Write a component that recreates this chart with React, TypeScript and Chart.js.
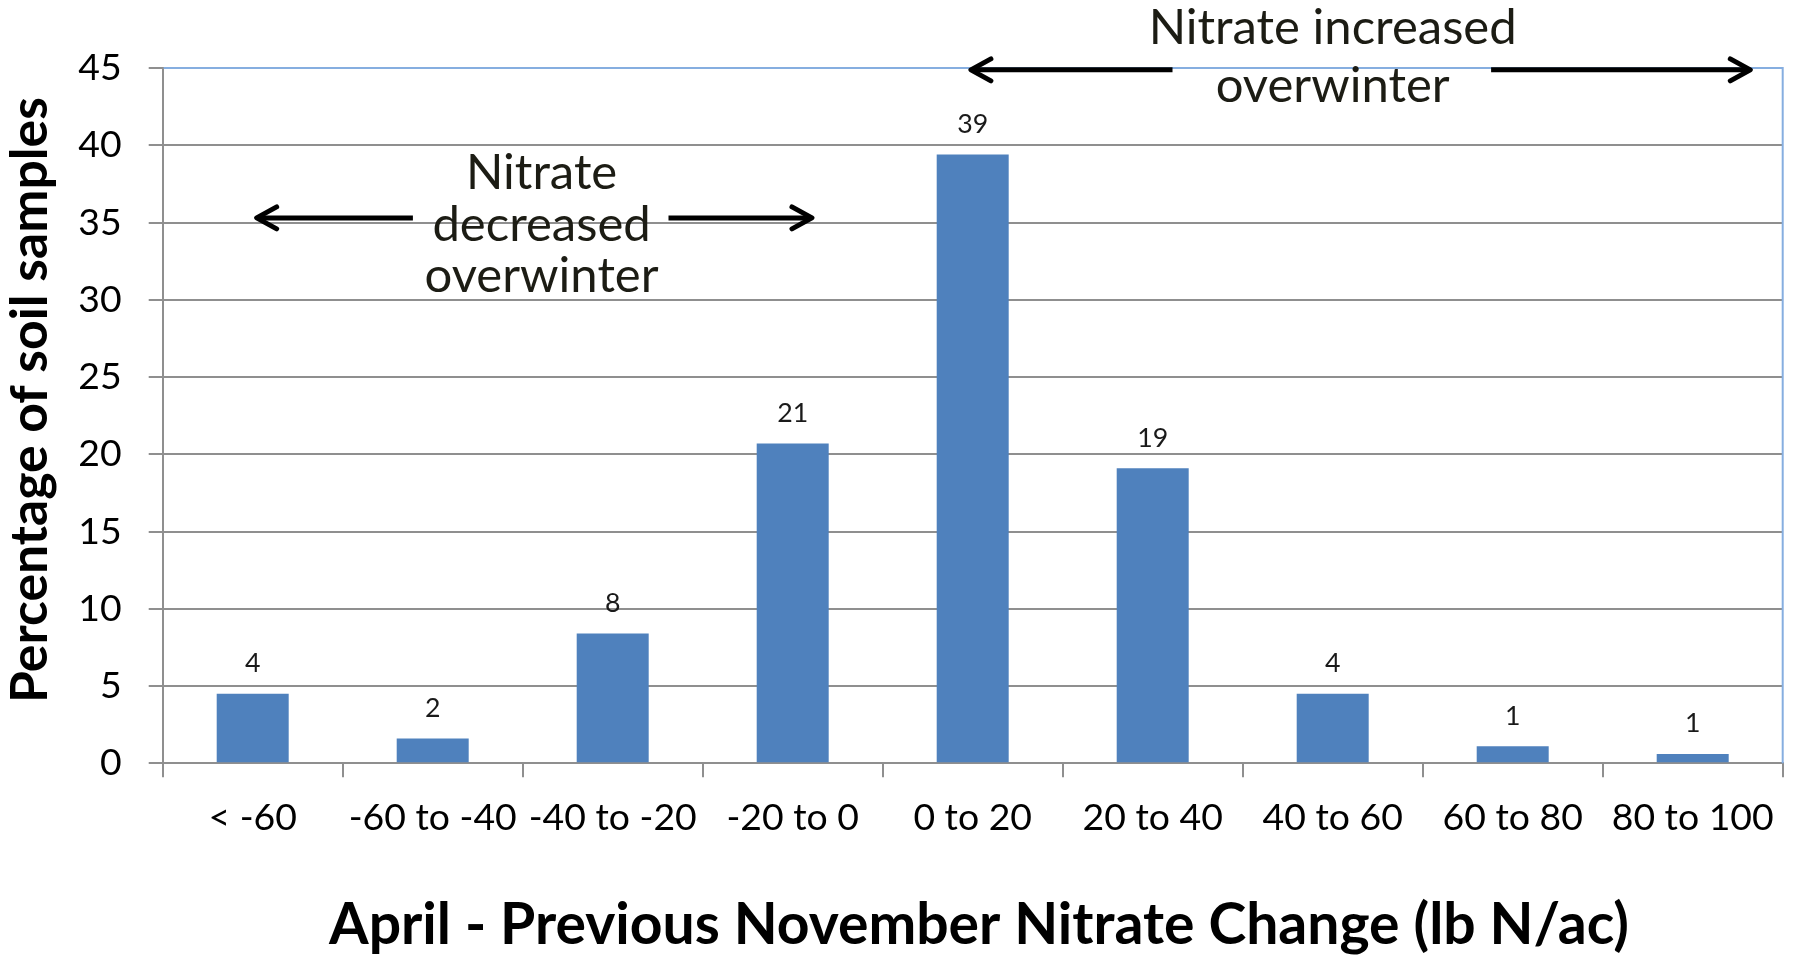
import React, { useEffect, useRef } from "react";
import { Chart, registerables } from "chart.js";

Chart.register(...registerables);

// ---------- data ----------
const categories = [
  "< -60",
  "-60 to -40",
  "-40 to -20",
  "-20 to 0",
  "0 to 20",
  "20 to 40",
  "40 to 60",
  "60 to 80",
  "80 to 100",
];
const samplePercent = [4.5, 1.6, 8.4, 20.7, 39.4, 19.1, 4.5, 1.1, 0.6];
const valueLabels = ["4", "2", "8", "21", "39", "19", "4", "1", "1"];
const yMin = 0;
const yMax = 45;
const yStep = 5;
const yTitle = "Percentage of soil samples";
const xTitle = "April - Previous November Nitrate Change (lb N/ac)";
const decreasedNote = ["Nitrate", "decreased", "overwinter"];
const increasedNote = ["Nitrate increased", "overwinter"];

// ---------- layout / style ----------
const W = 1794;
const H = 957;
const FONT = "Lato, 'Open Sans', sans-serif";
const BAR = "#4f81bd";
const GRID = "#8f8f8f";
const FRAME = "#86aee0";
const NOTE = "#1c1c14";

function fit(ctx: CanvasRenderingContext2D, text: string, weight: string, target: number) {
  ctx.font = `${weight} 100px ${FONT}`;
  return (100 * target) / ctx.measureText(text).width;
}

function arrow(ctx: CanvasRenderingContext2D, tail: number, tip: number, y: number) {
  const dir = Math.sign(tip - tail);
  ctx.lineCap = "butt";
  ctx.beginPath();
  ctx.moveTo(tail, y);
  ctx.lineTo(tip - dir * 2, y);
  ctx.stroke();
  ctx.lineCap = "round";
  ctx.lineJoin = "round";
  ctx.beginPath();
  ctx.moveTo(tip - dir * 20, y - 11);
  ctx.lineTo(tip, y);
  ctx.lineTo(tip - dir * 20, y + 11);
  ctx.stroke();
}

export default function App() {
  const ref = useRef<HTMLCanvasElement>(null);

  useEffect(() => {
    const canvas = ref.current!;
    const mctx = canvas.getContext("2d")!;
    const tickSize = fit(mctx, "80 to 100", "normal", 162);
    const valueSize = fit(mctx, "39", "normal", 31);
    const noteSize = fit(mctx, "overwinter", "normal", 234);
    const yTitleSize = fit(mctx, yTitle, "bold", 606);
    const xTitleSize = fit(mctx, xTitle, "bold", 1300);

    const overlay = {
      id: "overlay",
      afterDraw(chart: any) {
        const ctx: CanvasRenderingContext2D = chart.ctx;
        const a = chart.chartArea;
        const x = chart.scales.x;
        const y = chart.scales.y;
        ctx.save();

        // plot frame (top + right)
        ctx.strokeStyle = FRAME;
        ctx.lineWidth = 2;
        ctx.beginPath();
        ctx.moveTo(a.left + 1, a.top);
        ctx.lineTo(a.right, a.top);
        ctx.lineTo(a.right, a.bottom);
        ctx.stroke();

        // value labels above bars
        ctx.fillStyle = "#1a1a1a";
        ctx.textAlign = "center";
        ctx.textBaseline = "alphabetic";
        ctx.font = `${valueSize}px ${FONT}`;
        chart.getDatasetMeta(0).data.forEach((bar: any, i: number) => {
          ctx.fillText(valueLabels[i], bar.x, bar.y - 21.6);
        });

        // arrows
        ctx.strokeStyle = "#000";
        ctx.lineWidth = 5;
        const yLow = y.getPixelForValue(35.3);
        arrow(ctx, x.getPixelForValue(0.89), x.getPixelForValue(0.022), yLow);
        arrow(ctx, x.getPixelForValue(2.31), x.getPixelForValue(3.107), yLow);
        const yHigh = y.getPixelForValue(44.88);
        arrow(ctx, x.getPixelForValue(5.11), x.getPixelForValue(3.99), yHigh);
        arrow(ctx, x.getPixelForValue(6.88), x.getPixelForValue(8.32), yHigh);

        // notes
        ctx.fillStyle = NOTE;
        ctx.font = `${noteSize}px ${FONT}`;
        const decX = x.getPixelForValue(1.605);
        const decBase = [37.2, 33.82, 30.5];
        decreasedNote.forEach((t, i) => ctx.fillText(t, decX, y.getPixelForValue(decBase[i])));
        const incX = x.getPixelForValue(6.0);
        const incBase = [46.57, 42.8];
        increasedNote.forEach((t, i) => ctx.fillText(t, incX, y.getPixelForValue(incBase[i])));

        // axis titles
        ctx.fillStyle = "#000";
        ctx.font = `bold ${xTitleSize}px ${FONT}`;
        ctx.fillText(xTitle, 979, 944);
        ctx.save();
        ctx.translate(47, 400);
        ctx.rotate(-Math.PI / 2);
        ctx.font = `bold ${yTitleSize}px ${FONT}`;
        ctx.fillText(yTitle, 0, 0);
        ctx.restore();

        ctx.restore();
      },
    };

    const chart = new Chart(canvas, {
      type: "bar",
      data: {
        labels: categories,
        datasets: [
          {
            data: samplePercent,
            backgroundColor: BAR,
            borderWidth: 0,
            barPercentage: 0.4,
            categoryPercentage: 1,
          },
        ],
      },
      options: {
        responsive: false,
        animation: false,
        devicePixelRatio: 1,
        layout: { padding: { top: 68, right: 11.3, bottom: 0, left: 0 } },
        plugins: { legend: { display: false }, tooltip: { enabled: false } },
        scales: {
          x: {
            grid: {
              display: true,
              drawOnChartArea: false,
              drawTicks: true,
              tickLength: 14,
              color: GRID,
              lineWidth: 2,
              offset: true,
            },
            border: { display: true, color: GRID, width: 2 },
            ticks: {
              font: { family: FONT, size: tickSize },
              color: "#000",
              padding: 18,
              maxRotation: 0,
              autoSkip: false,
            },
            afterFit: (s: any) => {
              s.height = H - 763.3;
            },
          },
          y: {
            min: yMin,
            max: yMax,
            ticks: {
              stepSize: yStep,
              font: { family: FONT, size: tickSize },
              color: "#000",
              padding: 27,
            },
            grid: { color: GRID, lineWidth: 2, tickLength: 14, tickColor: GRID },
            border: { color: GRID, width: 2 },
            afterFit: (s: any) => {
              s.width = 162.7;
            },
          },
        },
      },
      plugins: [overlay],
    } as any);

    return () => chart.destroy();
  }, []);

  return (
    <div style={{ position: "absolute", left: 0, top: 0, width: W, height: H, background: "#fff" }}>
      <canvas ref={ref} width={W} height={H} style={{ display: "block" }} />
    </div>
  );
}
